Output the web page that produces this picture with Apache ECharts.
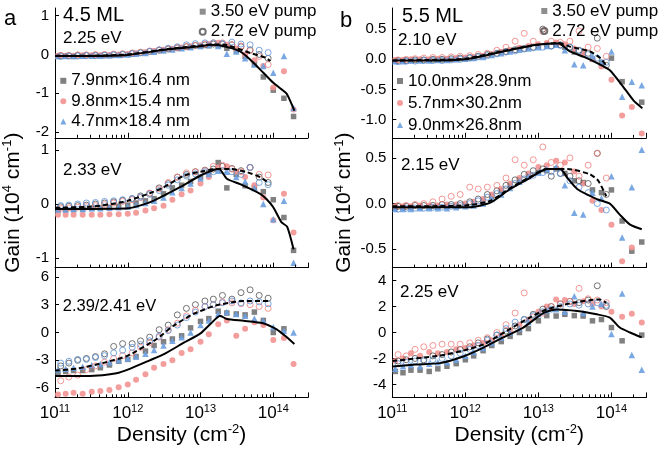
<!DOCTYPE html>
<html>
<head>
<meta charset="utf-8">
<script src="https://cdn.jsdelivr.net/npm/echarts@6/dist/echarts.min.js"></script>
<style>
html, body { margin: 0; padding: 0; background: #fff; }
#chart { width: 660px; height: 452px; }
</style>
</head>
<body>
<div id="chart"></div>
<script>
// densities (cm^-2) of the 3.50 eV pump points and of the 2.72 eV pump points
const densFilled = [1.1e11, 1.4e11, 1.8e11, 2.4e11, 3.2e11, 4.2e11, 5.6e11, 7.5e11, 1.0e12, 1.3e12, 1.75e12, 2.3e12, 3.1e12, 4.1e12, 5.5e12, 7.3e12, 1.0e13, 1.3e13, 1.75e13, 2.3e13, 3.1e13, 4.1e13, 5.5e13, 7.3e13, 1.0e14, 1.4e14, 1.9e14, 2.6e14]
const densOpen = [1.2e11, 1.55e11, 2.05e11, 2.7e11, 3.6e11, 4.8e11, 6.4e11, 8.5e11, 1.15e12, 1.5e12, 2.0e12, 2.7e12, 3.6e12, 4.8e12, 6.4e12, 8.5e12, 1.15e13, 1.5e13, 2.0e13, 2.7e13, 3.6e13, 4.8e13, 6.4e13, 8.5e13]

// panel a, 2.25 eV
const aTopSq = [-0.05, -0.04, -0.05, -0.04, -0.04, -0.03, -0.03, -0.02, 0.0, 0.02, 0.05, 0.08, 0.11, 0.14, 0.17, 0.19, 0.21, 0.23, 0.24, 0.16, 0.1, -0.05, -0.25, -0.58, -0.92, -1.13, -1.6, null]
const aTopCi = [-0.03, -0.03, -0.03, -0.02, -0.02, -0.02, -0.01, 0.0, 0.01, 0.03, 0.06, 0.09, 0.12, 0.15, 0.18, 0.21, 0.24, 0.27, 0.3, 0.25, 0.15, 0.0, -0.15, -0.3, -0.85, -0.43, -1.42, null]
const aTopTr = [-0.04, -0.04, -0.04, -0.03, -0.03, -0.03, -0.02, -0.01, 0.0, 0.02, 0.04, 0.07, 0.1, 0.13, 0.16, 0.19, 0.22, 0.24, 0.22, 0.02, 0.08, -0.1, -0.26, -0.3, -0.47, -0.04, -1.38, null]
const aTopOg = [-0.03, -0.03, -0.02, -0.02, -0.02, -0.01, 0.0, 0.01, 0.03, 0.05, 0.08, 0.11, 0.14, 0.17, 0.2, 0.23, 0.25, 0.27, 0.27, 0.25, 0.2, 0.12, 0.0, -0.1]
const aTopOp = [-0.02, -0.02, -0.01, -0.01, 0.0, 0.0, 0.01, 0.02, 0.04, 0.06, 0.09, 0.12, 0.15, 0.18, 0.21, 0.24, 0.27, 0.3, 0.3, 0.25, 0.22, 0.1, -0.05, -0.26]
const aTopOb = [-0.05, -0.04, -0.04, -0.03, -0.03, -0.02, -0.01, 0.0, 0.02, 0.04, 0.08, 0.12, 0.16, 0.2, 0.25, 0.28, 0.3, 0.3, 0.28, 0.32, 0.27, 0.25, 0.11, 0.05]
const aTopSolid = [[1e11, -0.04], [3e11, -0.04], [1e12, -0.01], [3.5e12, 0.13], [1e13, 0.21], [1.35e13, 0.25], [1.9e13, 0.23], [3.5e13, 0.08], [4.8e13, -0.13], [7.3e13, -0.47], [1e14, -0.73], [1.3e14, -0.9], [1.55e14, -1.03], [1.95e14, -1.45]]
const aTopDash = [[1e11, -0.03], [3e11, -0.03], [1e12, 0.0], [3.5e12, 0.14], [1e13, 0.23], [1.5e13, 0.26], [2.2e13, 0.25], [4.8e13, 0.04], [7.8e13, -0.08], [9.1e13, -0.17]]

// panel a, 2.33 eV
const aMidSq = [-0.1, -0.1, -0.1, -0.09, -0.08, -0.07, -0.06, -0.04, -0.02, 0.02, 0.06, 0.1, 0.19, 0.3, 0.35, 0.42, 0.5, 0.58, 0.77, 0.3, 0.55, 0.34, 0.3, 0.23, 0.08, -0.25, -0.86, null]
const aMidCi = [-0.2, -0.2, -0.2, -0.2, -0.2, -0.2, -0.19, -0.19, -0.18, -0.16, -0.12, -0.08, -0.03, 0.08, 0.18, 0.25, 0.38, 0.5, 0.68, 0.7, 0.6, 0.5, 0.35, 0.12, -0.3, 0.19, -0.53, null]
const aMidTr = [-0.1, -0.1, -0.09, -0.09, -0.08, -0.08, -0.07, -0.06, -0.05, -0.02, 0.02, 0.06, 0.12, 0.22, 0.3, 0.38, 0.48, 0.56, 0.62, 0.6, 0.5, 0.42, 0.3, 0.0, -0.28, 0.06, -1.09, null]
const aMidOg = [-0.05, -0.04, -0.03, -0.02, 0.0, 0.02, 0.04, 0.07, 0.1, 0.15, 0.2, 0.3, 0.38, 0.5, 0.55, 0.6, 0.63, 0.65, 0.7, 0.66, 0.62, 0.68, 0.5, 0.4]
const aMidOb = [-0.03, -0.02, 0.0, 0.02, 0.03, 0.05, 0.06, 0.08, 0.1, 0.13, 0.18, 0.25, 0.35, 0.45, 0.52, 0.56, 0.6, 0.6, 0.62, 0.6, 0.55, 0.68, 0.4, 0.36]
const aMidOp = [-0.08, -0.07, -0.06, -0.05, -0.03, -0.01, 0.02, 0.05, 0.08, 0.12, 0.2, 0.28, 0.4, 0.5, 0.58, 0.6, 0.62, 0.7, 0.72, 0.65, 0.6, 0.68, 0.55, 0.54]
const aMidSolid = [[1e11, -0.09], [3e11, -0.09], [1e12, -0.08], [2e12, 0.03], [5e12, 0.3], [1e13, 0.53], [1.5e13, 0.63], [1.8e13, 0.65], [2.3e13, 0.47], [3.5e13, 0.37], [6.6e13, 0.19], [8.1e13, 0.09], [1e14, -0.06], [1.3e14, -0.34], [1.55e14, -0.42], [1.9e14, -0.84]]
const aMidDash = [[1e11, -0.07], [3e11, -0.05], [6e11, 0.0], [1e12, 0.06], [2e12, 0.2], [3e12, 0.3], [6e12, 0.53], [1e13, 0.6], [1.6e13, 0.65], [2.6e13, 0.65], [4.4e13, 0.59], [6.6e13, 0.5], [8.5e13, 0.4]]

// panel a, 2.39/2.41 eV
const aBotSq = [-4.3, -4.2, -4.1, -4.1, -4.0, -3.8, -3.5, -3.1, -2.9, -2.6, -2.0, -1.4, -1.0, -0.7, -0.36, 0.5, 1.2, 1.5, 2.3, 2.1, 2.0, 1.9, 2.2, 1.3, 0.0, 0.4, null, null]
const aBotCi = [-6.7, -6.6, -6.5, -6.6, -6.4, -6.3, -6.2, -5.9, -5.6, -5.1, -4.5, -3.8, -3.4, -3.0, -2.2, -1.8, -1.0, -0.2, 0.9, 1.3, -0.36, 0.4, 1.1, 0.8, -0.8, -0.6, -3.4, null]
const aBotTr = [-4.0, -3.9, -3.8, -3.7, -3.5, -3.4, -3.2, -3.0, -2.8, -2.6, -2.3, -1.9, -1.4, -0.9, -0.5, 0.0, 0.8, 1.3, 2.0, 2.2, 2.0, 1.8, 1.5, 1.3, 0.6, 0.2, 0.0, null]
const aBotOg = [-3.6, -3.3, -3.0, -2.8, -2.6, -2.3, -1.5, -1.2, -1.2, -0.9, -0.5, 0.3, 0.8, 1.9, 2.6, 3.0, 3.4, 3.6, 4.0, 3.6, 4.3, 4.6, 4.0, 3.7]
const aBotOb = [-3.3, -3.1, -2.9, -2.9, -2.7, -2.5, -2.2, -1.9, -1.6, -1.3, -0.9, -0.4, 0.2, 0.8, 1.6, 2.2, 2.8, 3.0, 3.2, 3.4, 3.2, 3.4, 3.3, 3.1]
const aBotOp = [-5.2, -4.8, -4.6, -4.0, -3.6, -3.2, -2.8, -2.5, -2.2, -1.6, -1.1, -0.5, 0.3, 1.0, 1.8, 2.4, 2.8, 3.0, 3.3, 3.2, 3.1, 3.0, 2.8, 2.6]
const aBotSolid = [[1e11, -4.7], [2e11, -4.7], [4.5e11, -4.6], [7e11, -4.4], [1e12, -4.0], [2e12, -3.0], [3.2e12, -2.3], [5.9e12, -1.1], [1e13, -0.1], [1.4e13, 1.0], [1.86e13, 1.8], [2.3e13, 1.45], [3.9e13, 1.26], [7.2e13, 1.0], [1.1e14, 0.36], [1.45e14, -0.36], [1.95e14, -1.25]]
const aBotDash = [[1e11, -4.1], [2e11, -3.9], [4.5e11, -3.3], [1e12, -2.5], [2.5e12, -0.7], [4.2e12, 0.7], [8e12, 2.0], [1.6e13, 2.9], [3.9e13, 3.4], [9e13, 3.4]]

// panel b, 2.10 eV
const bTopSq = [-0.02, -0.02, -0.02, -0.01, -0.01, -0.01, 0.0, 0.0, 0.01, 0.02, 0.05, 0.08, 0.12, 0.15, 0.18, 0.2, 0.22, 0.24, 0.25, 0.2, 0.12, 0.08, 0.0, -0.05, 0.02, -0.37, null, -0.71]
const bTopCi = [-0.01, -0.01, 0.0, 0.0, 0.0, 0.01, 0.01, 0.02, 0.03, 0.04, 0.06, 0.09, 0.12, 0.15, 0.19, 0.22, 0.25, 0.27, 0.28, 0.25, 0.18, 0.1, 0.0, -0.12, -0.34, -0.93, -0.79, -1.23]
const bTopTr = [-0.03, -0.03, -0.02, -0.02, -0.02, -0.01, -0.01, 0.0, 0.01, 0.02, 0.04, 0.07, 0.1, 0.13, 0.16, 0.18, 0.2, 0.22, 0.24, 0.15, -0.08, -0.1, 0.05, -0.05, 0.13, -0.62, -0.37, -0.43]
const bTopOg = [-0.02, -0.02, -0.01, -0.01, 0.0, 0.0, 0.01, 0.02, 0.03, 0.05, 0.08, 0.1, 0.13, 0.16, 0.18, 0.2, 0.5, 0.22, 0.24, 0.2, 0.15, 0.1, 0.35, -0.1]
const bTopOb = [-0.04, -0.03, -0.03, -0.02, -0.02, -0.02, -0.01, 0.0, 0.02, 0.04, 0.06, 0.09, 0.12, 0.14, 0.17, 0.19, 0.2, 0.22, 0.23, 0.2, 0.14, 0.08, 0.02, -0.05]
const bTopOp = [-0.01, 0.0, 0.01, 0.02, 0.03, 0.03, 0.04, 0.05, 0.06, 0.08, 0.1, 0.15, 0.2, 0.3, 0.43, 0.3, 0.46, 0.3, 0.28, 0.3, 0.47, 0.2, 0.18, 0.05]
const bTopSolid = [[1e11, -0.02], [3e11, -0.02], [1e12, 0.0], [3.3e12, 0.13], [9.5e12, 0.24], [1.9e13, 0.26], [2.7e13, 0.13], [4.2e13, 0.04], [6.6e13, -0.07], [9.5e13, -0.18], [1.4e14, -0.43], [2e14, -0.68], [2.65e14, -0.81]]
const bTopDash = [[1e11, -0.02], [3e11, -0.01], [1e12, 0.01], [3.3e12, 0.14], [9.5e12, 0.24], [1.9e13, 0.27], [2.7e13, 0.21], [5.1e13, 0.13], [7e13, 0.02], [8.7e13, -0.12]]

// panel b, 2.15 eV
const bMidSq = [-0.04, -0.04, -0.04, -0.04, -0.04, -0.04, -0.03, -0.03, -0.02, 0.0, 0.03, 0.08, 0.14, 0.2, 0.26, 0.3, 0.34, 0.36, 0.38, 0.33, 0.25, 0.23, 0.15, 0.12, 0.15, -0.19, -0.52, -0.42]
const bMidCi = [-0.03, -0.03, -0.03, -0.02, -0.02, -0.02, -0.01, -0.01, 0.0, 0.02, 0.05, 0.1, 0.16, 0.22, 0.28, 0.33, 0.4, 0.42, 0.47, 0.45, 0.35, 0.22, 0.03, -0.07, -0.23, -0.63, -0.48, null]
const bMidTr = [-0.06, -0.06, -0.06, -0.05, -0.05, -0.05, -0.05, -0.04, -0.03, -0.02, 0.0, 0.05, 0.1, 0.17, 0.24, 0.3, 0.34, 0.38, 0.4, 0.2, -0.1, -0.12, 0.12, 0.06, 0.3, -0.37, 0.18, 0.59]
const bMidOg = [-0.03, -0.03, -0.02, -0.02, -0.02, -0.01, -0.01, 0.0, 0.02, 0.05, 0.1, 0.14, 0.2, 0.26, 0.32, 0.36, 0.38, 0.3, 0.33, 0.3, 0.25, 0.22, 0.55, 0.1]
const bMidOb = [-0.06, -0.05, -0.05, -0.05, -0.04, -0.04, -0.03, -0.02, 0.0, 0.03, 0.07, 0.11, 0.16, 0.22, 0.27, 0.31, 0.34, 0.35, 0.33, 0.25, 0.18, 0.12, 0.0, -0.07]
const bMidOp = [-0.02, -0.02, -0.01, 0.0, 0.02, 0.05, 0.08, 0.1, 0.18, 0.16, 0.18, 0.2, 0.28, 0.48, 0.42, 0.48, 0.62, 0.45, 0.42, 0.5, 0.3, 0.42, 0.55, 0.28]
const bMidSolid = [[1e11, -0.04], [1.1e12, -0.04], [2.2e12, 0.01], [4.1e12, 0.16], [7.6e12, 0.28], [1.3e13, 0.38], [2e13, 0.38], [2.5e13, 0.28], [3.4e13, 0.16], [6.3e13, 0.05], [9.5e13, 0.0], [1.3e14, -0.12], [1.8e14, -0.23], [2.6e14, -0.28]]
const bMidDash = [[1e11, -0.03], [1e12, -0.02], [2.2e12, 0.03], [4.1e12, 0.17], [7.6e12, 0.29], [1.3e13, 0.38], [2.5e13, 0.38], [5.1e13, 0.32], [6.6e13, 0.25], [8.5e13, 0.08]]

// panel b, 2.25 eV
const bBotSq = [-3.0, -3.1, -2.9, -2.9, -3.0, -2.8, -2.6, -2.4, -2.1, -1.8, -1.4, -1.0, -0.7, -0.3, 0.0, 0.3, 0.9, 1.3, 1.27, 1.4, 1.3, 1.27, 0.9, 1.0, 0.38, -0.64, null, -0.2]
const bBotCi = [-2.2, -2.0, -1.6, -1.8, -1.5, -1.6, -1.5, -1.3, -1.2, -1.0, -0.8, -0.6, -0.2, 0.2, 0.6, 1.0, 1.6, 2.0, 2.55, 2.5, 2.2, 2.4, 2.2, 2.0, 1.6, 1.22, 1.45, 0.77]
const bBotTr = [-2.8, -2.6, -2.5, -2.6, -2.4, -2.3, -2.3, -2.1, -1.8, -1.5, -1.2, -0.8, -0.4, 0.0, 0.3, 0.8, 1.4, 1.7, 1.8, 1.6, 2.8, 1.5, 2.0, 2.2, -0.12, 3.0, -1.73, -2.87]
const bBotOg = [-2.2, -2.1, -2.0, -2.1, -1.8, -1.7, -1.5, -1.3, -1.1, -0.8, -0.5, -0.2, 0.1, 0.5, 1.0, 1.4, 1.8, 2.0, 2.2, 2.4, 2.3, 2.5, 3.6, 2.0]
const bBotOb = [-2.4, -2.3, -2.2, -2.2, -2.1, -2.0, -1.8, -1.6, -1.3, -1.0, -0.6, -0.2, 0.3, 0.8, 1.0, 1.3, 1.6, 1.8, 2.0, 2.2, 2.1, 2.2, 2.3, 2.1]
const bBotOp = [-1.7, -1.8, -1.3, -1.1, -1.0, -0.9, -0.9, -0.9, -0.8, -0.6, -0.4, 0.0, 0.6, 1.5, 3.05, 1.2, 1.5, 2.0, 2.2, 2.4, 3.4, 2.6, 2.5, 2.3]
const bBotSolid = [[1e11, -2.62], [2.1e11, -2.47], [4.5e11, -2.36], [9.3e11, -1.85], [1.8e12, -1.14], [3.3e12, -0.38], [6.2e12, 0.38], [9.5e12, 1.15], [1.2e13, 1.53], [1.8e13, 1.78], [3.4e13, 1.66], [6.3e13, 1.4], [9.5e13, 1.15], [1.3e14, 0.38], [1.8e14, 0.0], [2.6e14, -0.38]]
const bBotDash = [[1e11, -2.2], [4.5e11, -1.78], [9.3e11, -1.4], [1.8e12, -0.9], [3.7e12, 0.13], [7.6e12, 1.15], [1.3e13, 1.78], [3e13, 2.3], [6.9e13, 2.55], [8.5e13, 2.3]]

// axes
const yRanges = [[-2.15, 1.2], [-1.18, 1.23], [-7, 7], [-1.3, 0.85], [-0.7, 0.72], [-5, 5]]
const yTicks = [[-2, -1, 0, 1], [-1, 0, 1], [-6, -3, 0, 3, 6], [-1, -0.5, 0, 0.5], [-0.5, 0, 0.5], [-4, -2, 0, 2, 4]]
const minorX = [2e11, 3e11, 4e11, 5e11, 6e11, 7e11, 8e11, 9e11, 2e12, 3e12, 4e12, 5e12, 6e12, 7e12, 8e12, 9e12, 2e13, 3e13, 4e13, 5e13, 6e13, 7e13, 8e13, 9e13, 2e14, 3e14]

const sizesA = ['7.9nm×16.4 nm', '9.8nm×15.4 nm', '4.7nm×18.4 nm']
const sizesB = ['10.0nm×28.9nm', '5.7nm×30.2nm', '9.0nm×26.8nm']
const panelLabels = ['2.25 eV', '2.33 eV', '2.39/2.41 eV', '2.10 eV', '2.15 eV', '2.25 eV']

const panels = [
	{ filled: [aTopSq, aTopCi, aTopTr], open: [aTopOg, aTopOp, aTopOb], solid: aTopSolid, dash: aTopDash, names: sizesA },
	{ filled: [aMidSq, aMidCi, aMidTr], open: [aMidOg, aMidOp, aMidOb], solid: aMidSolid, dash: aMidDash, names: sizesA },
	{ filled: [aBotSq, aBotCi, aBotTr], open: [aBotOg, aBotOp, aBotOb], solid: aBotSolid, dash: aBotDash, names: sizesA },
	{ filled: [bTopSq, bTopCi, bTopTr], open: [bTopOg, bTopOp, bTopOb], solid: bTopSolid, dash: bTopDash, names: sizesB },
	{ filled: [bMidSq, bMidCi, bMidTr], open: [bMidOg, bMidOp, bMidOb], solid: bMidSolid, dash: bMidDash, names: sizesB },
	{ filled: [bBotSq, bBotCi, bBotTr], open: [bBotOg, bBotOp, bBotOb], solid: bBotSolid, dash: bBotDash, names: sizesB }
]

const font = 'Liberation Sans, Arial, sans-serif'
const gray = '#727272'
const pink = '#f29391'
const blue = '#6c9fdf'
const openColors = ['#505050', '#ef7f7d', '#5b92d8']
const filledStyle = [
	{ symbol: 'rect', symbolSize: 5.5, color: gray },
	{ symbol: 'circle', symbolSize: 6, color: pink },
	{ symbol: 'triangle', symbolSize: 6.5, color: blue }
]

function pts(xs, ys) {
	return xs.map((x, i) => [x, ys[i]]).filter(p => p[1] != null)
}

function minorTick(params, api) {
	const p = api.coord([api.value(0), api.value(1)])
	const cs = params.coordSys
	const x = Math.round(p[0]) + 0.5
	const y0 = cs.y + cs.height
	return {
		type: 'line',
		shape: { x1: x, y1: y0, x2: x, y2: y0 - 3 },
		style: { stroke: '#000', lineWidth: 1 }
	}
}

function expLabel(v) {
	const e = Math.round(Math.log10(v))
	if (Math.abs(Math.log10(v) - e) > 1e-6) return ''
	return '{b|10}{s|' + e + '}'
}

const colLeft = [55, 55, 55, 392.3, 392.3, 392.3]
const colWidth = [253, 253, 253, 254, 254, 254]
const rowTop = [8, 137.8, 267.6, 8, 137.8, 267.6]

const grid = []
const xAxis = []
const yAxis = []
const series = []

panels.forEach((pn, i) => {
	const bottom = i % 3 === 2
	const middle = i % 3 === 1
	grid.push({ left: colLeft[i], top: rowTop[i], width: colWidth[i], height: 129.8 })
	xAxis.push({
		type: 'log',
		gridIndex: i,
		min: 1e11,
		max: 3e14,
		axisLine: { onZero: false, lineStyle: { color: '#000', width: 1 } },
		axisTick: { inside: true, length: 5, lineStyle: { color: '#000' } },
		splitLine: { show: false },
		axisLabel: {
			show: bottom,
			formatter: expLabel,
			margin: 6,
			color: '#000',
			rich: {
				b: { fontSize: 17, fontFamily: font, color: '#000', lineHeight: 20 },
				s: { fontSize: 11, fontFamily: font, color: '#000', lineHeight: 12, verticalAlign: 'top' }
			}
		},
		name: bottom ? 'Density (cm{s|-2})' : '',
		nameLocation: 'middle',
		nameGap: 18,
		nameTextStyle: {
			fontSize: 21, fontFamily: font, color: '#000', lineHeight: 24,
			rich: { s: { fontSize: 13, fontFamily: font, color: '#000', lineHeight: 14, verticalAlign: 'top' } }
		}
	})
	const dec = i >= 3 && i !== 5 ? 1 : 0
	yAxis.push({
		type: 'value',
		gridIndex: i,
		min: yRanges[i][0],
		max: yRanges[i][1],
		axisLine: { show: true, onZero: false, lineStyle: { color: '#000', width: 1 } },
		axisTick: { show: true, inside: true, length: 4, customValues: yTicks[i], lineStyle: { color: '#000' } },
		splitLine: { show: false },
		axisLabel: {
			customValues: yTicks[i],
			formatter: v => v.toFixed(dec),
			fontSize: 15,
			fontFamily: font,
			color: '#000',
			margin: 6
		},
		name: middle ? 'Gain (10{s|4} cm{s|-1})' : '',
		nameLocation: 'middle',
		nameRotate: 90,
		nameGap: i < 3 ? 30 : 35,
		nameTextStyle: {
			fontSize: 21, fontFamily: font, color: '#000', lineHeight: 24,
			rich: { s: { fontSize: 13, fontFamily: font, color: '#000', lineHeight: 14, verticalAlign: 'top' } }
		}
	})

	pn.filled.forEach((ys, k) => {
		series.push({
			type: 'scatter',
			name: pn.names[k],
			xAxisIndex: i,
			yAxisIndex: i,
			symbol: filledStyle[k].symbol,
			symbolSize: filledStyle[k].symbolSize,
			itemStyle: { color: filledStyle[k].color, opacity: 0.9 },
			data: pts(densFilled, ys),
			z: 2
		})
	})
	pn.open.forEach((ys, k) => {
		series.push({
			type: 'scatter',
			name: 'open-' + k,
			xAxisIndex: i,
			yAxisIndex: i,
			symbol: 'circle',
			symbolSize: 6,
			itemStyle: { color: 'rgba(0,0,0,0)', borderColor: openColors[k], borderWidth: 1 },
			data: pts(densOpen, ys),
			z: 3
		})
	})
	series.push({
		type: 'line',
		name: 'avg-3.50',
		xAxisIndex: i,
		yAxisIndex: i,
		data: pn.solid,
		showSymbol: false,
		smooth: 0.2,
		lineStyle: { color: '#000', width: 2 },
		z: 5
	})
	series.push({
		type: 'line',
		name: 'avg-2.72',
		xAxisIndex: i,
		yAxisIndex: i,
		data: pn.dash,
		showSymbol: false,
		smooth: 0.2,
		lineStyle: { color: '#000', width: 2, type: [5, 3] },
		z: 5
	})
	series.push({
		type: 'custom',
		name: 'minor',
		xAxisIndex: i,
		yAxisIndex: i,
		silent: true,
		renderItem: minorTick,
		data: minorX.map(v => [v, yRanges[i][0]]),
		z: 6
	})
})

// legend-only series for the pump energies
series.push({
	type: 'scatter', name: '3.50 eV pump', xAxisIndex: 0, yAxisIndex: 0,
	symbol: 'rect', itemStyle: { color: gray }, data: []
})
series.push({
	type: 'scatter', name: '2.72 eV pump', xAxisIndex: 0, yAxisIndex: 0,
	symbol: 'circle', itemStyle: { color: 'rgba(0,0,0,0)', borderColor: '#505050', borderWidth: 1 }, data: []
})

function legendAt(data, left, top, gap) {
	return {
		data: data,
		orient: 'vertical',
		left: left,
		top: top,
		itemGap: gap,
		itemWidth: 6,
		itemHeight: 6,
		selectedMode: false,
		padding: 0,
		textStyle: { fontSize: 17, fontFamily: font, color: '#000', lineHeight: 17 }
	}
}

const texts = [
	{ text: 'a', x: 4, y: 19, size: 22 },
	{ text: 'b', x: 340, y: 21, size: 22 },
	{ text: '4.5 ML', x: 63, y: 15.5, size: 20 },
	{ text: '5.5 ML', x: 402, y: 16.5, size: 20 },
	{ text: panelLabels[0], x: 63, y: 38.5, size: 17 },
	{ text: panelLabels[1], x: 63, y: 170.5, size: 17 },
	{ text: panelLabels[2], x: 62.7, y: 306, size: 16.5 },
	{ text: panelLabels[3], x: 398, y: 40, size: 17 },
	{ text: panelLabels[4], x: 401, y: 165, size: 17 },
	{ text: panelLabels[5], x: 400, y: 292.5, size: 17 }
]

const chart = echarts.init(document.getElementById('chart'))
chart.setOption({
	animation: false,
	backgroundColor: '#fff',
	grid: grid,
	xAxis: xAxis,
	yAxis: yAxis,
	legend: [
		legendAt(['3.50 eV pump', '2.72 eV pump'], 198.7, 3.2, 3),
		legendAt(sizesA, 60.3, 72.3, 3.4),
		legendAt(['3.50 eV pump', '2.72 eV pump'], 540.3, 2.5, 3),
		legendAt(sizesB, 397, 72.5, 5)
	],
	graphic: texts.map(t => ({
		type: 'text',
		style: {
			text: t.text, x: t.x, y: t.y, fontSize: t.size, fontFamily: font,
			fill: '#000', align: 'left', verticalAlign: 'middle'
		},
		z: 10
	})),
	series: series
})
</script>
</body>
</html>
